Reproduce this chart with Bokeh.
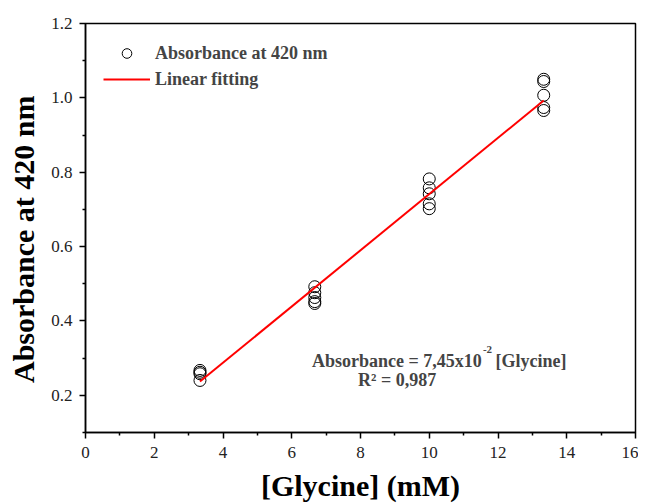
from bokeh.plotting import figure
from bokeh.models import FixedTicker, Legend, LegendItem, Label, PrintfTickFormatter, ColumnDataSource
from bokeh.embed import file_html
from bokeh.resources import INLINE

# Data
glycine_mM = [3.33, 3.33, 3.33, 3.33,
              6.67, 6.67, 6.67, 6.67, 6.67,
              10.0, 10.0, 10.0, 10.0, 10.0,
              13.33, 13.33, 13.33, 13.33, 13.33]
absorbance = [0.267, 0.262, 0.258, 0.240,
              0.492, 0.476, 0.463, 0.452, 0.447,
              0.782, 0.758, 0.742, 0.715, 0.702,
              1.050, 1.044, 1.007, 0.974, 0.966]
fit_x = [3.33, 13.33]
fit_y = [0.237, 0.993]

x_ticks = [0, 2, 4, 6, 8, 10, 12, 14, 16]
x_minor = [1, 3, 5, 7, 9, 11, 13, 15]
y_ticks = [0.2, 0.4, 0.6, 0.8, 1.0, 1.2]
y_minor = [0.1, 0.3, 0.5, 0.7, 0.9, 1.1]

FONT = "Liberation Serif"

p = figure(width=638, height=504, x_range=(0, 16), y_range=(0.1, 1.2),
           output_backend="svg", toolbar_location=None,
           min_border_left=85, min_border_right=3, min_border_top=23, min_border_bottom=0)
p.grid.visible = False
p.outline_line_color = "black"
p.outline_line_width = 1.5
p.background_fill_color = "white"
p.border_fill_color = "white"

src = ColumnDataSource(dict(x=glycine_mM, y=absorbance))
r_pts = p.scatter("x", "y", source=src, size=12, marker="circle",
                  fill_color=None, line_color="black", line_width=1)
r_fit = p.line(fit_x, fit_y, line_color="#ff0000", line_width=2)

for ax in (p.xaxis[0], p.yaxis[0]):
    ax.axis_line_width = 1.5
    ax.axis_line_color = "black"
    ax.major_tick_line_width = 1.5
    ax.minor_tick_line_width = 1.5
    ax.major_tick_out = 6
    ax.major_tick_in = 0
    ax.minor_tick_out = 3
    ax.minor_tick_in = 0
    ax.major_label_text_font = FONT
    ax.major_label_text_font_size = "17px"
    ax.major_label_text_color = "#222222"
    ax.axis_label_text_font = FONT
    ax.axis_label_text_font_style = "bold"
    ax.axis_label_text_font_size = "30px"
    ax.axis_label_text_color = "black"

p.xaxis.ticker = FixedTicker(ticks=x_ticks, minor_ticks=x_minor)
p.yaxis.ticker = FixedTicker(ticks=y_ticks, minor_ticks=y_minor)
p.yaxis.formatter = PrintfTickFormatter(format="%.1f")
p.xaxis.axis_label = "[Glycine] (mM)"
# trailing no-break spaces nudge the title slightly below the frame centre, as in the reference
p.yaxis.axis_label = "Absorbance at 420 nm\u00a0\u00a0\u00a0"
p.xaxis.major_label_standoff = 8
p.yaxis.major_label_standoff = 7
p.xaxis.axis_label_standoff = 8
p.yaxis.axis_label_standoff = 8

legend = Legend(items=[LegendItem(label="Absorbance at 420 nm", renderers=[r_pts]),
                       LegendItem(label="Linear fitting", renderers=[r_fit])],
                location="top_left")
legend.margin = 18
legend.padding = 10
legend.glyph_width = 47
legend.glyph_height = 24
legend.spacing = 2
legend.label_standoff = 5
legend.label_text_font = FONT
legend.label_text_font_style = "bold"
legend.label_text_font_size = "18px"
legend.border_line_color = None
legend.background_fill_alpha = 0
p.add_layout(legend)

eq1 = Label(x=6.59, y=0.291, text="Absorbance = 7,45x10", text_font=FONT,
            text_font_style="bold", text_font_size="18px", text_baseline="alphabetic")
eq2 = Label(x=11.56, y=0.322, text="-2", text_font=FONT,
            text_font_style="bold", text_font_size="11px", text_baseline="alphabetic")
eq3 = Label(x=13.99, y=0.291, text="[Glycine]", text_font=FONT, text_align="right",
            text_font_style="bold", text_font_size="18px", text_baseline="alphabetic")
eq4 = Label(x=7.93, y=0.242, text="R\u00b2 = 0,987", text_font=FONT,
            text_font_style="bold", text_font_size="18px", text_baseline="alphabetic")
for lb in (eq1, eq2, eq3, eq4):
    p.add_layout(lb)

open("out.html", "w").write(file_html(p, INLINE))
